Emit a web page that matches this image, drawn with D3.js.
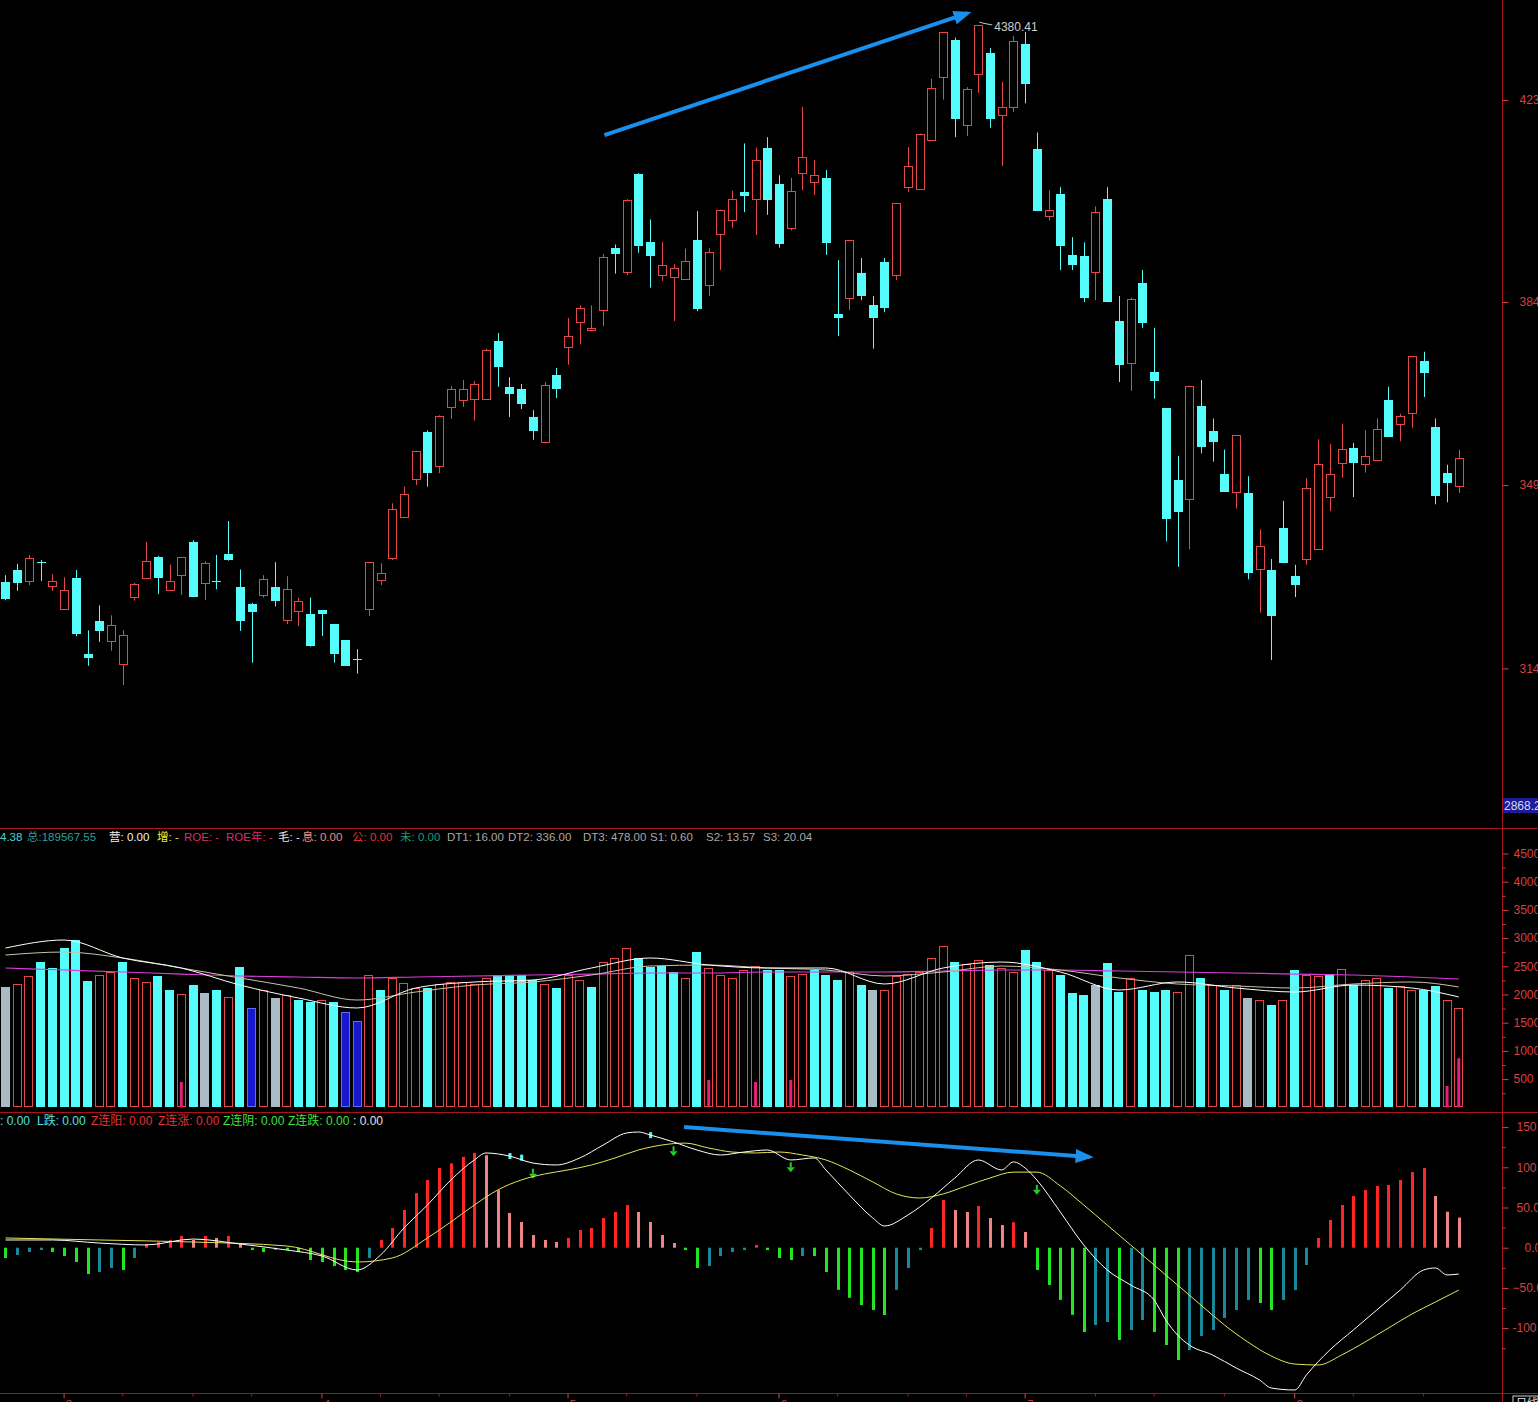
<!DOCTYPE html>
<html>
<head>
<meta charset="utf-8">
<script src="https://cdn.jsdelivr.net/npm/d3@7"></script>
<style>
html, body { margin: 0; padding: 0; background: #000; overflow: hidden; }
svg { display: block; font-family: "Liberation Sans", "Noto Sans CJK SC", sans-serif; }
</style>
</head>
<body>
<div id="chart"></div>
<script>
// ---- daily candles ----
const opens = [3311,3334,3313,3350,3304,3258,3318,3173,3237,3198,
  3153,3282,3319,3359,3296,3325,3387,3308,3313,3365,
  3301,3268,3286,3301,3237,3254,3249,3257,3230,3199,
  3163,3258,3315,3357,3435,3510,3598,3533,3646,3660,
  3664,3663,3773,3685,3681,3627,3580,3708,3762,3810,
  3795,3834,3952,3905,4094,3963,3900,3897,3893,3967,
  3880,3980,4007,4059,4047,4145,4075,3990,4096,4079,
  4087,3825,3856,3904,3842,3925,3900,4070,4067,4159,
  4280,4351,4187,4286,4327,4207,4223,4344,4142,4013,
  4056,3939,3937,3906,4046,3813,3733,3885,3714,3645,
  3507,3471,3648,3600,3518,3483,3482,3335,3334,3415,
  3322,3355,3374,3473,3539,3569,3537,3544,3660,3613,
  3634,3735,3608,3520,3496];
const highs = [3324,3346,3363,3353,3326,3320,3334,3218,3266,3247,
  3218,3309,3388,3361,3344,3359,3391,3351,3363,3428,
  3335,3271,3324,3349,3322,3281,3281,3257,3230,3199,
  3182,3349,3347,3462,3494,3563,3602,3631,3687,3699,
  3697,3759,3789,3704,3691,3641,3695,3722,3818,3842,
  3842,3941,3959,4046,4096,4007,3964,3921,3951,4023,
  3952,4026,4062,4153,4145,4165,4092,4087,4223,4121,
  4102,3929,3967,3933,3860,3933,4038,4146,4172,4277,
  4366,4356,4261,4380.41,4336,4271,4359,4367,4174,4063,
  4069,3973,3963,4032,4069,3860,3857,3910,3799,3645,
  3553,3688,3699,3625,3565,3593,3514,3412,3355,3467,
  3344,3510,3585,3576,3615,3578,3602,3625,3686,3634,
  3744,3753,3625,3536,3565];
const lows = [3276,3294,3305,3313,3294,3258,3207,3150,3196,3179,
  3113,3275,3319,3288,3296,3286,3282,3276,3297,3352,
  3217,3156,3281,3264,3230,3226,3187,3207,3156,3150,
  3135,3246,3305,3353,3435,3497,3494,3520,3624,3647,
  3621,3663,3686,3628,3643,3584,3580,3664,3728,3767,
  3792,3802,3903,3900,3943,3876,3889,3812,3893,3831,
  3860,3910,3991,4021,3977,4016,3953,3986,4063,4054,
  3939,3783,3833,3852,3759,3829,3891,4060,4065,4159,
  4237,4165,4167,4250,4183,4110,4213,4230,4023,4005,
  3910,3910,3848,3852,3848,3695,3678,3799,3663,3389,
  3340,3374,3558,3542,3484,3452,3316,3252,3161,3347,
  3282,3344,3374,3447,3512,3474,3521,3544,3589,3581,
  3607,3666,3460,3464,3482];
const closes = [3278,3309,3357,3348,3313,3295,3210,3166,3218,3229,
  3209,3307,3351,3319,3313,3359,3282,3347,3312,3353,
  3236,3253,3317,3275,3297,3274,3187,3250,3173,3150,
  3162,3349,3328,3451,3479,3563,3519,3629,3681,3681,
  3692,3757,3724,3672,3653,3601,3690,3682,3783,3837,
  3799,3935,3941,4044,3956,3936,3919,3914,3927,3835,
  3944,4026,4047,4052,4121,4045,3959,4061,4127,4092,
  3963,3817,3967,3860,3817,3837,4038,4110,4172,4259,
  4366,4199,4257,4380,4201,4222,4349,4268,4023,4025,
  3956,3920,3856,4021,3848,3729,3855,3808,3697,3432,
  3445,3688,3570,3578,3484,3593,3329,3380,3245,3347,
  3304,3491,3537,3518,3566,3540,3552,3604,3589,3629,
  3744,3711,3476,3500,3549];

// ---- volume panel ----
const volumes = [2133,2186,2328,2576,2470,2824,2966,2239,2346,2399,
  2576,2292,2222,2328,2080,2009,2168,2027,2080,1956,
  2487,1761,2080,1938,1991,1902,1867,1902,1867,1690,
  1530,2346,2080,2292,2204,2115,2115,2186,2222,2222,
  2186,2292,2346,2346,2346,2257,2186,2115,2346,2257,
  2133,2576,2647,2824,2647,2487,2505,2399,2292,2753,
  2470,2346,2292,2434,2505,2434,2434,2328,2363,2434,
  2346,2257,2399,2168,2080,2080,2328,2363,2399,2647,
  2860,2576,2541,2612,2523,2470,2399,2789,2576,2434,
  2346,2027,1991,2168,2558,2044,2292,2080,2044,2080,
  2044,2700,2292,2168,2080,2168,1938,1902,1814,1902,
  2434,2346,2328,2363,2452,2168,2257,2292,2115,2151,
  2080,2080,2151,1902,1755];
const grayDays = [0, 17, 23, 74, 93, 106];
const blueDays = [21, 29, 30];
const pinkIdx = [15, 60, 64, 67, 123, 124];
const pinkVals = [449, 484, 449, 484, 378, 869];
const maIdx = [0,5,10,15,20,25,30,35,40,45,50,55,60,65,70,75,80,85,90,95,100,105,110,115,120,124];
const ma5 = [2824,2966,2647,2470,2168,1938,1761,2115,2222,2257,2470,2647,2523,2470,2470,2186,2470,2576,2399,2080,2222,2115,2044,2168,2115,1956];
const ma10 = [2700,2753,2647,2470,2293,2115,1902,2044,2168,2222,2346,2505,2523,2470,2434,2328,2399,2505,2434,2293,2186,2151,2115,2186,2222,2133];
const ma60 = [2470,2434,2399,2363,2328,2310,2293,2310,2328,2346,2363,2381,2381,2399,2399,2399,2417,2434,2434,2417,2399,2381,2363,2346,2310,2275];

// ---- MACD panel ----
const macdHist = [-12.8,-9.1,-5.3,-2.9,-5.3,-10.3,-17.8,-32.7,-30.2,-25.2,
  -27.7,-12.8,4.6,7.1,9.6,14.6,9.6,14.6,12.1,14.6,
  4.6,-2.9,-5.3,-2.9,-2.9,-5.3,-15.3,-17.8,-22.8,-27.7,
  -30.2,-12.8,9.6,24.5,46.9,67.8,84.2,99.1,105,113,
  118,115,71.5,43.2,32,15.8,9.6,7.1,12.1,22,
  24.5,36.9,44.4,53.1,44.4,32,15.8,5.8,-2.9,-25.2,
  -22.8,-10.3,-5.3,-2.9,3.4,-2.9,-12.8,-15.3,-10.3,-10.3,
  -30.2,-52.4,-62.3,-71.3,-77.5,-83.7,-52.4,-25.2,-2.9,24.5,
  59.3,46.9,44.4,51.9,36.9,28.2,31.7,19.5,-27.7,-46.3,
  -64.9,-83.5,-104.9,-96.1,-92.4,-114.8,-102.4,-89.9,-104.9,-121,
  -139.7,-127.2,-109.8,-102.4,-87.5,-77.5,-65,-68.8,-77.5,-65,
  -52.7,-21.5,12.1,34.5,53.1,64.3,71.8,76.8,78,84.2,
  94.1,99.1,64.3,44.8,37.4];
const difIdx = [0,4,8,12,16,20,24,27,30,32,34,36,38,40,41,43,45,47,49,51,53,54,55,57,59,61,63,65,67,69,70,72,74,75,77,79,81,83,85,86,87,88,90,92,94,96,98,99,100,101,103,105,107,108,110,111,113,115,117,119,121,122,123,124];
const difVals = [9.6,9.6,5.8,3.4,10.8,4.6,-2.9,-10.3,-27.7,-9.1,24.5,53.1,84.2,109.1,117.8,114,105.3,102.9,111.6,127.7,142.7,143.9,140.2,131.5,121.5,115.3,119,121.5,109.1,111.6,96.7,65.6,37,27,40.7,61.8,86.7,109.1,96.7,106.7,99.1,84.2,44.4,3.4,-27.7,-46.4,-65,-89.9,-108.6,-121,-133.5,-149.6,-164.5,-174.5,-177,-158.3,-127.2,-102.4,-77.5,-52.7,-27.7,-25.2,-33.9,-32.7];
const deaIdx = [0,8,16,24,30,33,36,38,40,42,44,46,48,50,52,54,56,58,60,62,64,66,68,70,72,74,76,78,80,82,84,86,88,90,92,94,96,98,100,102,104,106,108,110,112,114,116,118,120,122,124];
const deaVals = [12.1,9.6,7.1,2.1,-17.8,-12.8,12.1,32,53.1,71.8,84.2,91.7,96.7,102.9,111.6,121.5,127.7,130.1,124,119,117.8,119,115.3,109.1,96.7,81.8,66.9,61.8,66.9,76.9,86.7,94,94,76.9,53.1,28.2,3.4,-21.5,-46.4,-71.4,-96.1,-117.3,-134.7,-144.7,-145.9,-133.5,-117.3,-99.9,-82.5,-67.6,-52.7];
const downArrowIdx = [45, 57, 67, 88];
const downArrowVals = [92, 120, 100, 72];
const cyanMarkIdx = [43, 44, 55];
const cyanMarkVals = [114, 112, 140];

// ---- axes and notes ----
const priceTicks = [4236.4, 3848.5, 3497.0, 3145.0];
const volTicks = [500, 1000, 1500, 2000, 2500, 3000, 3500, 4000, 4500];
const volMinor = [250, 750, 1250, 1750, 2250, 2750, 3250, 3750, 4250];
const macdTicks = [150, 100, 50, 0, -50, -100];
const macdMinor = [125, 75, 25, -25, -75, -125];
const monthIdx = [5, 27, 48, 66, 87, 110];
const monthText = ["3", "4", "5", "6", "7", "8"];
const weekIdx = [10, 16, 21, 32, 37, 43, 53, 59, 71, 77, 82, 93, 98, 104, 115, 121];
const highIdx = 83, highVal = 4380.41;
const priceArrow = [[51.1, 4169], [82.1, 4403]];
const macdArrow = [[57.9, 150.1], [92.5, 112.8]];

const volHeader = [
  [0, "4.38", "#4fd2d2"], [27, "总:189567.55", "#2f9e9e"],
  [109, "营: 0.00", "#f2f2f2"], [157, "增: -", "#f0f040"],
  [184, "ROE: -", "#dc2f6c"], [226, "ROE年: -", "#dc2f6c"],
  [278, "毛: -", "#f2dede"], [302, "息: 0.00", "#f08c8c"],
  [352, "公: 0.00", "#e43434"], [400, "未: 0.00", "#169a7c"],
  [447, "DT1: 16.00", "#a8a8a8"], [508, "DT2: 336.00", "#a8a8a8"], [583, "DT3: 478.00", "#a8a8a8"],
  [650, "S1: 0.60", "#a8a8a8"], [706, "S2: 13.57", "#a8a8a8"], [763, "S3: 20.04", "#a8a8a8"]
];
const macdHeader = [
  [0, ": 0.00", "#50e0e0"], [37, "L跌: 0.00", "#50e0e0"], [91, "Z连阳: 0.00", "#e43434"],
  [158, "Z连涨: 0.00", "#e43434"], [223, "Z连阴: 0.00", "#3ee03e"], [288, "Z连跌: 0.00", "#3ee03e"],
  [353, ": 0.00", "#e0e0e0"]
];

const W = 1538, H = 1402;
const RED = "#e54848", CYAN = "#54fcfc", AXIS = "#a8141c", LABEL = "#d84040";
const axisX = 1502.5;

const svg = d3.select("#chart").append("svg").attr("width", W).attr("height", H);
svg.append("rect").attr("width", W).attr("height", H).attr("fill", "#000");

const n = opens.length;
const step = 11.72;
const x = d3.scaleBand().domain(d3.range(n))
  .range([-0.36, -0.36 + n * step]).paddingInner(0.27).paddingOuter(0.135);
const xc = i => x(i) + x.bandwidth() / 2;
const xi = d3.scaleLinear().domain([0, n - 1]).range([xc(0), xc(n - 1)]);

const yPrice = d3.scaleLinear().domain([2838.6, 4428.4]).range([828, 0]);
const yVol = d3.scaleLinear().domain([0, 4500]).range([1107.3, 853.5]);
const yMacd = d3.scaleLinear().domain([-100, 150]).range([1328.1, 1127.1]);

// Panel frame lines
[828.5, 1112.5, 1393.5].forEach(y => {
  svg.append("line").attr("x1", 0).attr("x2", W).attr("y1", y).attr("y2", y)
    .attr("stroke", AXIS).attr("stroke-width", 1);
});
svg.append("line").attr("x1", axisX).attr("x2", axisX).attr("y1", 0).attr("y2", H)
  .attr("stroke", AXIS).attr("stroke-width", 1);

// Candles
const candles = svg.append("g").attr("class", "candles");
const bw = Math.round(x.bandwidth());
d3.range(n).forEach(i => {
  const up = closes[i] >= opens[i];
  const col = up ? RED : CYAN;
  const cx = Math.round(xc(i)) + 0.5;
  const top = yPrice(Math.max(opens[i], closes[i]));
  const bot = yPrice(Math.min(opens[i], closes[i]));
  candles.append("line")
    .attr("x1", cx).attr("x2", cx)
    .attr("y1", yPrice(highs[i])).attr("y2", yPrice(lows[i]))
    .attr("stroke", col).attr("stroke-width", 1);
  const left = Math.round(cx - bw / 2);
  if (up) {
    candles.append("rect")
      .attr("x", left + 0.5).attr("y", Math.round(top) + 0.5)
      .attr("width", bw - 1).attr("height", Math.max(1, Math.round(bot - top)))
      .attr("fill", "#000").attr("stroke", col).attr("stroke-width", 1);
  } else {
    candles.append("rect")
      .attr("x", left).attr("y", Math.round(top))
      .attr("width", bw).attr("height", Math.max(1, Math.round(bot - top)))
      .attr("fill", col);
  }
});

// High label
const hx = xc(highIdx), hy = yPrice(highVal);
svg.append("path")
  .attr("d", `M${hx + 1},${hy - 3} L${hx + 4},${hy - 2} L${hx + 14},${hy}`)
  .attr("fill", "none").attr("stroke", "#c8c8c8").attr("stroke-width", 1);
svg.append("text").attr("x", hx + 16).attr("y", hy + 6)
  .attr("fill", "#cfcfcf").style("font-size", "12px").text(highVal.toFixed(2));

// Blue trend arrows
const defs = svg.append("defs");
defs.append("marker").attr("id", "bluehead")
  .attr("markerUnits", "userSpaceOnUse")
  .attr("markerWidth", 18).attr("markerHeight", 14)
  .attr("refX", 14).attr("refY", 7).attr("orient", "auto")
  .append("path").attr("d", "M0,0 L18,7 L0,14 Z").attr("fill", "#1a8fec");

svg.append("line")
  .attr("x1", xi(priceArrow[0][0])).attr("y1", yPrice(priceArrow[0][1]))
  .attr("x2", xi(priceArrow[1][0])).attr("y2", yPrice(priceArrow[1][1]))
  .attr("stroke", "#1a8fec").attr("stroke-width", 4).attr("marker-end", "url(#bluehead)");

// Price axis
const priceAxis = svg.append("g").attr("transform", `translate(${axisX},0)`)
  .call(d3.axisRight(yPrice).tickValues(priceTicks).tickSize(6).tickPadding(11)
    .tickFormat(d3.format(".2f")));
priceAxis.select(".domain").remove();
priceAxis.selectAll("line").attr("stroke", LABEL);
priceAxis.selectAll("text").attr("fill", LABEL).style("font-size", "12px")
  .style("font-family", "Liberation Sans, sans-serif");

// Current price box
svg.append("rect").attr("x", 1503).attr("y", 798).attr("width", 36).attr("height", 15)
  .attr("fill", "#1c1c96");
svg.append("text").attr("x", 1504).attr("y", 810).attr("fill", "#d6d6ff")
  .style("font-size", "12px").text("2868.2");

// Volume header
const vh = svg.append("text").attr("y", 841).style("font-size", "11.5px");
volHeader.forEach(([hx0, t, c]) => vh.append("tspan").attr("x", hx0).attr("fill", c).text(t));

// Volume bars
const vb = svg.append("g").attr("class", "volume");
d3.range(n).forEach(i => {
  const prev = i === 0 ? opens[0] : closes[i - 1];
  let kind = closes[i] >= prev ? "up" : "down";
  if (grayDays.includes(i)) kind = "gray";
  if (blueDays.includes(i)) kind = "blue";
  const left = Math.round(xc(i) - bw / 2);
  const top = Math.round(yVol(volumes[i]));
  const h = Math.round(yVol(0)) - top;
  if (kind === "up") {
    vb.append("rect").attr("x", left + 0.5).attr("y", top + 0.5)
      .attr("width", bw - 1).attr("height", h - 1)
      .attr("fill", "none").attr("stroke", RED).attr("stroke-width", 1);
  } else if (kind === "blue") {
    vb.append("rect").attr("x", left + 0.5).attr("y", top + 0.5)
      .attr("width", bw - 1).attr("height", h - 1)
      .attr("fill", "#1818d0").attr("stroke", "#5c6cff").attr("stroke-width", 1);
  } else {
    vb.append("rect").attr("x", left).attr("y", top).attr("width", bw).attr("height", h)
      .attr("fill", kind === "gray" ? "#a9bcc6" : CYAN);
  }
});
pinkIdx.forEach((i, k) => {
  const top = yVol(pinkVals[k]);
  vb.append("rect").attr("x", xc(i) - 1.5).attr("y", top)
    .attr("width", 3).attr("height", yVol(0) - top).attr("fill", "#e8207a");
});

// Volume moving averages
const maLine = vals => d3.line()
  .x((d, k) => xc(maIdx[k])).y(d => yVol(d))
  .curve(d3.curveMonotoneX)(vals);
svg.append("path").attr("d", maLine(ma60)).attr("fill", "none").attr("stroke", "#dc3cdc").attr("stroke-width", 1.2);
svg.append("path").attr("d", maLine(ma10)).attr("fill", "none").attr("stroke", "#c9c2a8").attr("stroke-width", 1);
svg.append("path").attr("d", maLine(ma5)).attr("fill", "none").attr("stroke", "#ffffff").attr("stroke-width", 1);

// Volume axis
const volAxis = svg.append("g").attr("transform", `translate(${axisX},0)`)
  .call(d3.axisRight(yVol).tickValues(volTicks).tickSize(6).tickPadding(5).tickFormat(d3.format("d")));
volAxis.select(".domain").remove();
volAxis.selectAll("line").attr("stroke", LABEL);
volAxis.selectAll("text").attr("fill", LABEL).style("font-size", "12px");
const volMin = svg.append("g").attr("transform", `translate(${axisX},0)`)
  .call(d3.axisRight(yVol).tickValues(volMinor).tickSize(3).tickFormat(""));
volMin.select(".domain").remove();
volMin.selectAll("line").attr("stroke", LABEL);

// MACD header
const mh = svg.append("text").attr("y", 1125).style("font-size", "12px");
macdHeader.forEach(([hx0, t, c]) => mh.append("tspan").attr("x", hx0).attr("fill", c).text(t));

// MACD histogram
const mg = svg.append("g").attr("class", "macd");
macdHist.forEach((v, i) => {
  const p = i ? macdHist[i - 1] : 0;
  let col;
  if (v >= 0) col = v >= p ? "#ff2626" : "#f08484";
  else col = v <= p ? "#22e622" : "#17899a";
  const y0 = yMacd(0), y1 = yMacd(v);
  mg.append("rect").attr("x", Math.round(xc(i)) - 1).attr("y", Math.min(y0, y1))
    .attr("width", 3).attr("height", Math.max(1, Math.abs(y1 - y0))).attr("fill", col);
});

// DIF / DEA
svg.append("path")
  .attr("d", d3.line().x((d, k) => xc(deaIdx[k])).y(d => yMacd(d)).curve(d3.curveMonotoneX)(deaVals))
  .attr("fill", "none").attr("stroke", "#e6e65a").attr("stroke-width", 1);
svg.append("path")
  .attr("d", d3.line().x((d, k) => xc(difIdx[k])).y(d => yMacd(d)).curve(d3.curveMonotoneX)(difVals))
  .attr("fill", "none").attr("stroke", "#ffffff").attr("stroke-width", 1);

// Signal markers
cyanMarkIdx.forEach((i, k) => {
  mg.append("rect").attr("x", xc(i) - 1).attr("y", yMacd(cyanMarkVals[k]) - 3)
    .attr("width", 3).attr("height", 6).attr("fill", CYAN);
});
downArrowIdx.forEach((i, k) => {
  const ax = xc(i), ay = yMacd(downArrowVals[k]);
  mg.append("line").attr("x1", ax).attr("x2", ax).attr("y1", ay - 5).attr("y2", ay)
    .attr("stroke", "#22d022").attr("stroke-width", 2);
  mg.append("path").attr("d", `M${ax - 4},${ay} L${ax + 4},${ay} L${ax},${ay + 5} Z`).attr("fill", "#22d022");
});

svg.append("line")
  .attr("x1", xi(macdArrow[0][0])).attr("y1", yMacd(macdArrow[0][1]))
  .attr("x2", xi(macdArrow[1][0])).attr("y2", yMacd(macdArrow[1][1]))
  .attr("stroke", "#1a8fec").attr("stroke-width", 4).attr("marker-end", "url(#bluehead)");

// MACD axis
const macdAxis = svg.append("g").attr("transform", `translate(${axisX},0)`)
  .call(d3.axisRight(yMacd).tickValues(macdTicks).tickSize(6)
    .tickFormat(d => Math.abs(d) >= 100 ? d + ".0" : d3.format(".1f")(d)));
macdAxis.select(".domain").remove();
macdAxis.selectAll("line").attr("stroke", LABEL);
macdAxis.selectAll("text").attr("fill", LABEL).style("font-size", "12px")
  .attr("x", d => d < 0 ? 10 : d === 0 ? 22 : 14);
const macdMin = svg.append("g").attr("transform", `translate(${axisX},0)`)
  .call(d3.axisRight(yMacd).tickValues(macdMinor).tickSize(3).tickFormat(""));
macdMin.select(".domain").remove();
macdMin.selectAll("line").attr("stroke", LABEL);

// Date axis
const dateAxis = svg.append("g").attr("transform", "translate(0,1393.5)")
  .call(d3.axisBottom(x).tickValues(monthIdx).tickSize(5).tickPadding(2)
    .tickFormat(d => monthText[monthIdx.indexOf(d)]));
dateAxis.select(".domain").remove();
dateAxis.selectAll("line").attr("stroke", LABEL);
dateAxis.selectAll("text").attr("fill", LABEL).style("font-size", "11px")
  .attr("text-anchor", "start").attr("dx", 2);
const weekAxis = svg.append("g").attr("transform", "translate(0,1393.5)")
  .call(d3.axisBottom(x).tickValues(weekIdx).tickSize(3).tickFormat(""));
weekAxis.select(".domain").remove();
weekAxis.selectAll("line").attr("stroke", AXIS);

// period tag in corner
svg.append("rect").attr("x", 1513).attr("y", 1396).attr("width", 25).attr("height", 8)
  .attr("fill", "none").attr("stroke", "#cfcfcf").attr("stroke-width", 1);
svg.append("text").attr("x", 1516).attr("y", 1407).attr("fill", "#e0e0e0")
  .style("font-size", "11px").text("日线");
</script>
</body>
</html>
